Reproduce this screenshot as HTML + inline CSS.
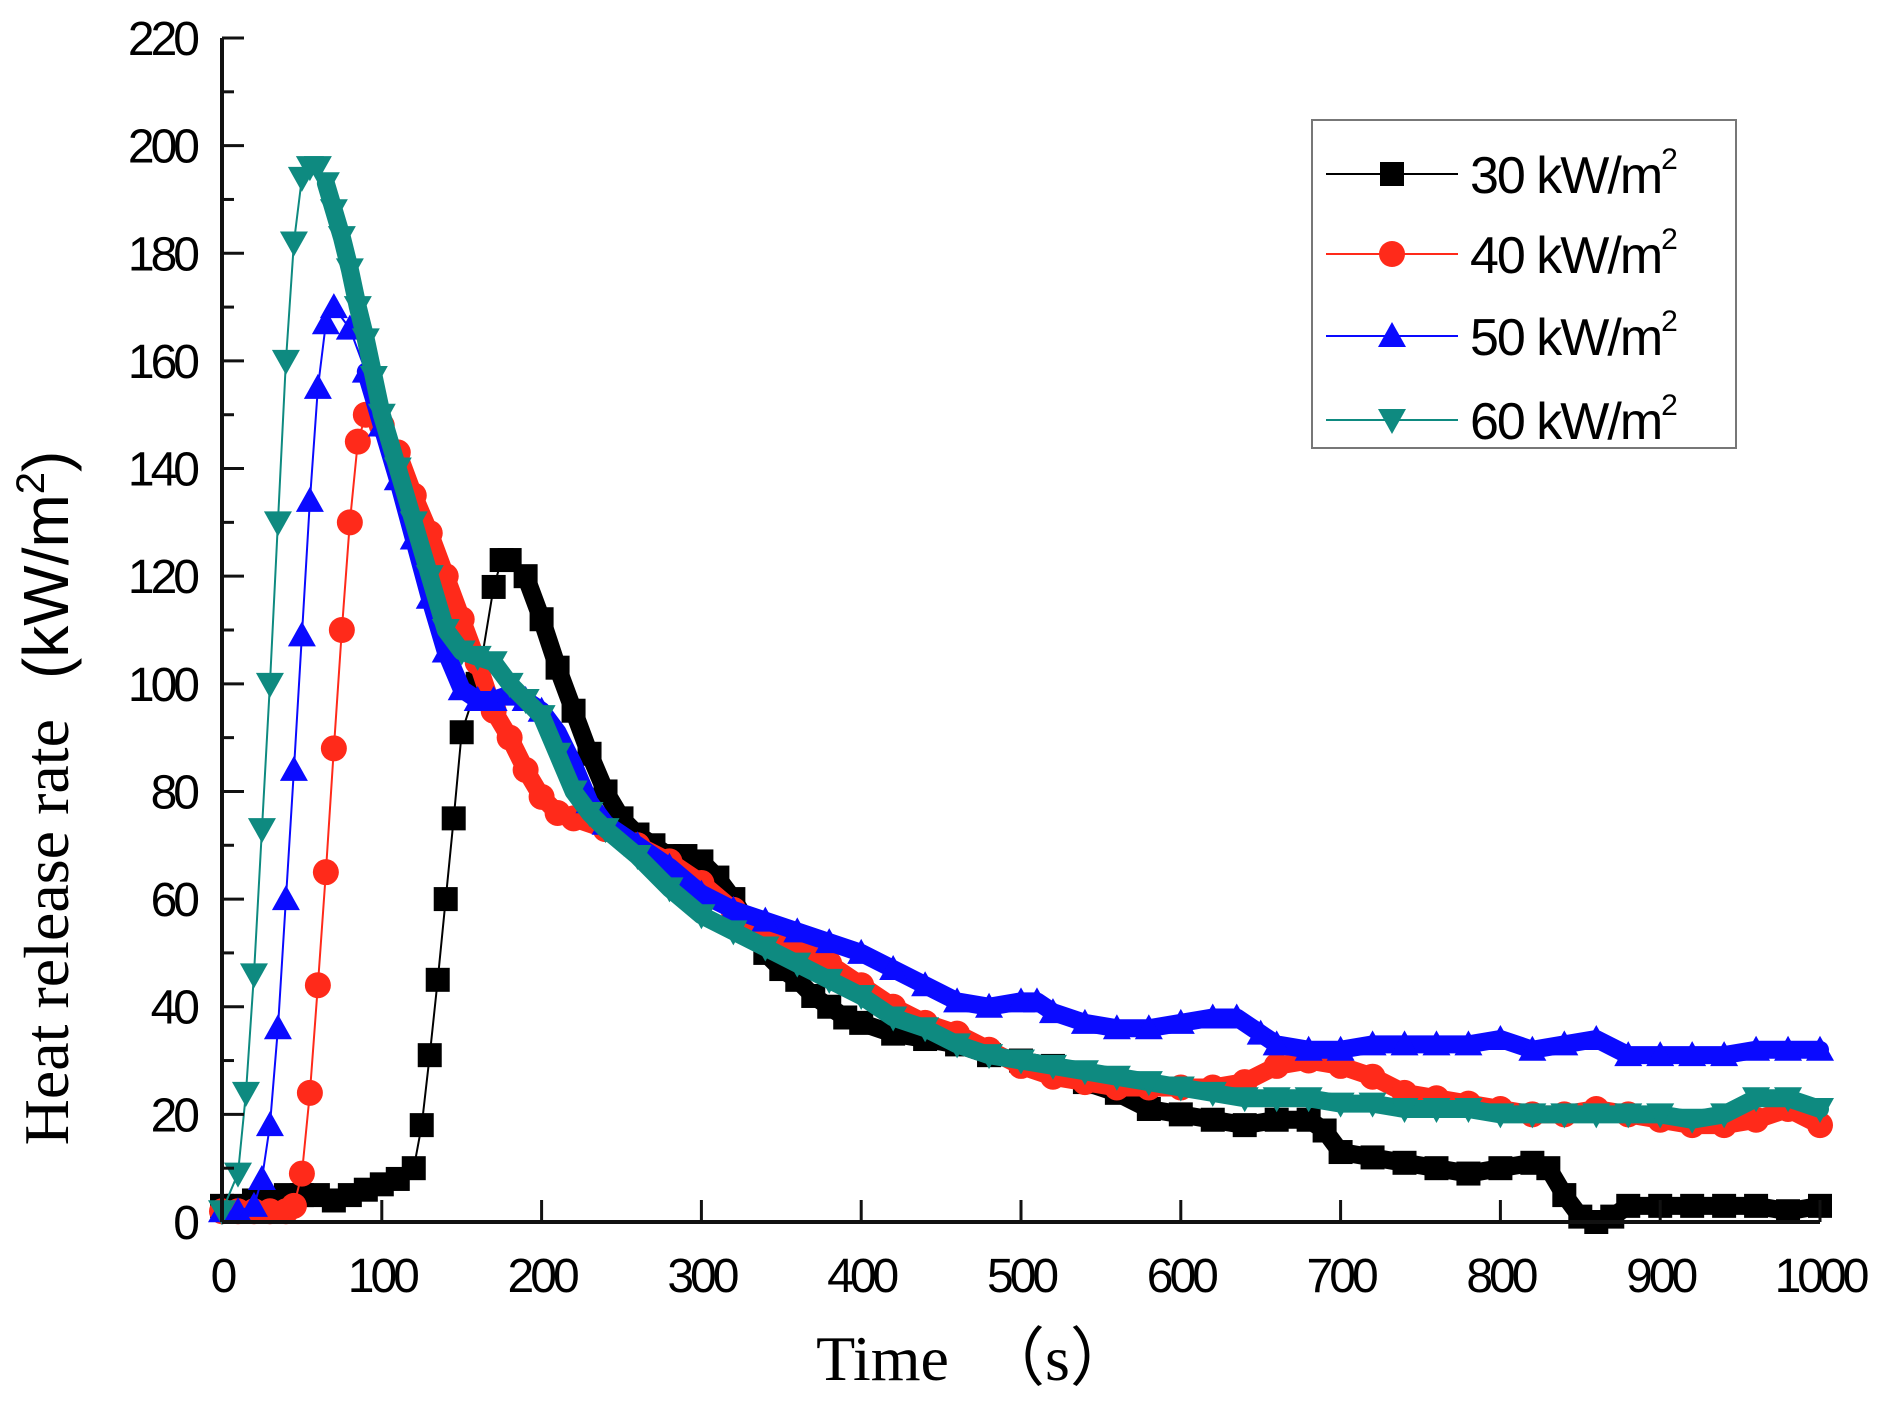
<!DOCTYPE html>
<html><head><meta charset="utf-8"><style>
html,body{margin:0;padding:0;background:#fff;}
svg{display:block;}
</style></head><body>
<svg id="chart" width="1880" height="1408" viewBox="0 0 1880 1408" xmlns="http://www.w3.org/2000/svg">
<g id="plot"></g>
<g id="axes"></g>
<text x="975" y="1380" text-anchor="middle" font-family="Liberation Serif, serif" font-size="64">Time　（s）</text>
<text transform="translate(68,798) rotate(-90)" text-anchor="middle" font-size="64"><tspan font-family="Liberation Serif, serif">Heat release rate</tspan><tspan font-family="Liberation Sans, sans-serif" dx="40">(kW/m</tspan><tspan font-family="Liberation Sans, sans-serif" font-size="40" dy="-24">2</tspan><tspan font-family="Liberation Sans, sans-serif" dy="24">)</tspan></text>
<g id="legend"></g>
</svg>
<script>
const xTicks=[0,100,200,300,400,500,600,700,800,900,1000];
const yTicks=[0,20,40,60,80,100,120,140,160,180,200,220];
const seriesNames=["30 kW/m","40 kW/m","50 kW/m","60 kW/m"];
const t30=[0,10,20,30,40,50,60,70,80,90,100,110,120,125,130,135,140,145,150,160,170,175,180,190,200,210,220,230,240,250,260,270,280,290,300,310,320,330,340,350,360,370,380,390,400,420,440,460,480,500,520,540,560,580,600,620,640,660,680,690,700,720,740,760,780,800,820,830,840,850,860,870,880,900,920,940,960,980,1000];
const v30=[3,3,4,4,5,5,5,4,5,6,7,8,10,18,31,45,60,75,91,100,118,123,123,120,112,103,95,87,80,75,72,70,68,68,67,64,60,55,50,47,45,42,40,38,37,35,34,33,31,30,29,26,24,21,20,19,18,19,19,17,13,12,11,10,9,10,11,10,5,1,0,1,3,3,3,3,3,2,3];
const t40=[0,10,20,30,40,45,50,55,60,65,70,75,80,85,90,100,110,120,130,140,150,160,170,180,190,200,210,220,240,260,280,300,320,340,360,380,400,420,440,460,480,500,520,540,560,580,600,620,640,660,680,700,720,740,760,780,800,820,840,860,880,900,920,940,960,980,1000];
const v40=[2,2,2,2,2,3,9,24,44,65,88,110,130,145,150,148,143,135,128,120,112,104,95,90,84,79,76,75,73,70,67,63,58,54,51,48,44,40,37,35,32,29,27,26,25,25,25,25,26,29,30,29,27,24,23,22,21,20,20,21,20,19,18,18,19,21,18];
const t50=[0,10,20,25,30,35,40,45,50,55,60,65,70,80,90,100,110,120,130,140,150,160,170,180,190,200,210,220,230,240,260,280,300,320,340,360,380,400,420,440,460,480,500,510,520,540,560,580,600,620,635,650,660,680,700,720,740,760,780,800,820,840,860,880,900,920,940,960,980,1000];
const v50=[2,2,3,8,18,36,60,84,109,134,155,167,170,166,158,148,138,127,116,106,99,97,97,98,97,95,91,85,78,74,70,66,61,58,56,54,52,50,47,44,41,40,41,41,39,37,36,36,37,38,38,35,33,32,32,33,33,33,33,34,32,33,34,31,31,31,31,32,32,32];
const t60=[0,10,15,20,25,30,35,40,45,50,55,60,65,70,75,80,85,90,95,100,110,120,130,140,150,160,170,180,190,200,210,220,230,240,260,280,300,320,340,360,380,400,420,440,460,480,500,520,540,560,580,600,620,640,660,680,700,720,740,760,780,800,820,840,860,880,900,920,940,960,980,1000];
const v60=[2,9,24,46,73,100,130,160,182,194,196,196,193,188,183,177,170,164,157,150,140,130,120,110,106,105,104,100,97,94,87,80,76,73,68,62,57,54,51,48,45,42,38,36,33,31,30,29,28,27,26,25,24,23,23,23,22,22,21,21,21,20,20,20,20,20,20,19,20,23,23,21];

const X=v=>222+(v/1000)*1598;
const Y=v=>1222-(v/220)*1184;
const NS="http://www.w3.org/2000/svg";
function mk(tag,attrs,parent){const e=document.createElementNS(NS,tag);for(const k in attrs)e.setAttribute(k,attrs[k]);parent.appendChild(e);return e;}
const axes=document.getElementById('axes'),plot=document.getElementById('plot'),leg=document.getElementById('legend');

let a=mk('line',{x1:222,y1:Y(0),x2:1820,y2:Y(0),stroke:'#111','stroke-width':4},axes);


a=mk('line',{x1:222,y1:Y(0),x2:222,y2:Y(220),stroke:'#111','stroke-width':4},axes);


xTicks.forEach(v=>{
  const t=mk('line',{x1:X(v),y1:Y(0),x2:X(v),y2:Y(0)-22,stroke:'#111','stroke-width':3},axes);
  
  
  const l=mk('text',{x:X(v),y:1292,'text-anchor':'middle','font-family':'Liberation Sans, sans-serif','font-size':48,'letter-spacing':-4},axes);
  l.textContent=v;
  
  
});
yTicks.forEach(v=>{
  const t=mk('line',{x1:222,y1:Y(v),x2:244,y2:Y(v),stroke:'#111','stroke-width':3},axes);
  
  
  if(v<220){const m=mk('line',{x1:222,y1:Y(v+10),x2:234,y2:Y(v+10),stroke:'#111','stroke-width':3},axes);
  
  }
  const l=mk('text',{x:196,y:Y(v)+17,'text-anchor':'end','font-family':'Liberation Sans, sans-serif','font-size':48,'letter-spacing':-4},axes);
  l.textContent=v;
  
  
});

function marker(shape,cx,cy,color,parent){
  const s=13;let e;
  if(shape==='square')e=mk('rect',{x:cx-s+1,y:cy-s+1,width:2*s-2,height:2*s-2,fill:color},parent);
  else if(shape==='circle')e=mk('circle',{cx:cx,cy:cy,r:s,fill:color},parent);
  else if(shape==='up')e=mk('polygon',{points:`${cx},${cy-s-1} ${cx+s+1},${cy+s-2} ${cx-s-1},${cy+s-2}`,fill:color},parent);
  else e=mk('polygon',{points:`${cx},${cy+s+1} ${cx+s+1},${cy-s+2} ${cx-s-1},${cy-s+2}`,fill:color},parent);
  return e;
}
const series=[[t30,v30,'#000000','square'],[t40,v40,'#ff2a1a','circle'],[t50,v50,'#0a0aff','up'],[t60,v60,'#0e8a80','down']];
series.forEach((s,i)=>{
  const [ts,vs,col,shape]=s;
  const g=mk('g',{},plot);
  
  
  const pts=ts.map((t,j)=>X(t)+','+Y(vs[j])).join(' ');
  const ln=mk('polyline',{points:pts,fill:'none',stroke:col,'stroke-width':2},g);
  
  
  let pk=vs.indexOf(Math.max(...vs));
  const bandPts=ts.slice(pk+2).map((t,j)=>X(t)+','+Y(vs[pk+2+j])).join(' ');
  const band=mk('polyline',{points:bandPts,fill:'none',stroke:col,'stroke-width':18,'stroke-linejoin':'round','stroke-linecap':'round'},g);
  
  
  ts.forEach((t,j)=>{
    const m=marker(shape,X(t),Y(vs[j]),col,g);
    
    
  });
});

const box=mk('rect',{x:1312,y:120,width:424,height:328,fill:'#fff',stroke:'#777','stroke-width':2},leg);


const ly=[174,254,336,420];
series.forEach((s,i)=>{
  const g=mk('g',{},leg);
  
  
  mk('line',{x1:1326,y1:ly[i],x2:1458,y2:ly[i],stroke:s[2],'stroke-width':2},g);
  marker(s[3],1392,ly[i],s[2],g);
  const t=mk('text',{x:1470,y:ly[i]+19,'font-family':'Liberation Sans, sans-serif','font-size':52,'letter-spacing':-2},g);
  t.textContent=seriesNames[i];
  const sup=mk('tspan',{'font-size':30,dy:-24},t);
  sup.textContent='2';
});
</script>
</body></html>
